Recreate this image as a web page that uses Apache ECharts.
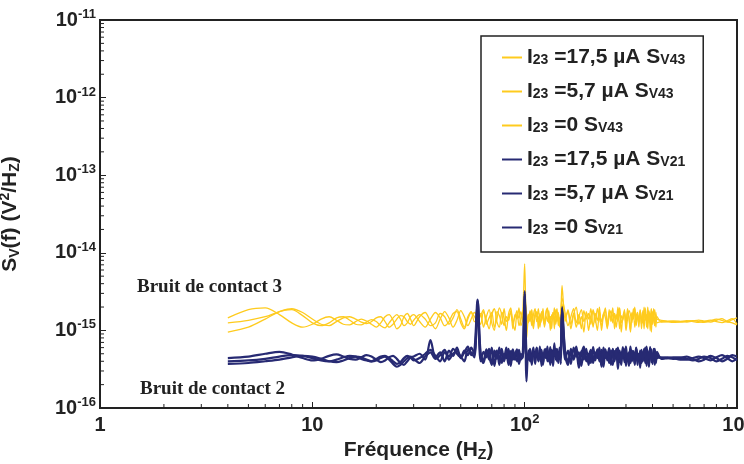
<!DOCTYPE html>
<html>
<head>
<meta charset="utf-8">
<script src="https://cdn.jsdelivr.net/npm/echarts@6/dist/echarts.min.js"></script>
<style>
  html, body { margin: 0; padding: 0; background: #fff; }
  #chart { width: 744px; height: 464px; }
</style>
</head>
<body>
<div id="chart"></div>
<script>
// frequencies (Hz), shared by all six spectra
const freq = [
  4, 5, 6, 7, 8, 9, 10, 11, 12, 13, 14, 15, 16, 17, 18, 19, 20, 21, 22, 23, 24, 25, 26, 27, 28, 29, 30,
  32, 34, 36, 38, 40, 42, 44, 46, 48, 50, 52, 54, 56, 58,
  60, 62, 64, 66, 68, 70, 72, 74, 76, 78, 80, 82, 84, 86, 88, 90, 92, 94, 96, 98,
  100, 102, 104, 106, 108, 110, 112, 114, 116, 118, 120, 122, 124, 126, 128, 130, 132, 134, 136, 138,
  140, 142, 144, 146, 148, 150,
  155, 160, 165, 170, 175, 180, 185, 190, 195, 200, 205, 210, 215, 220, 225, 230, 235, 240, 245, 250,
  255, 260, 265, 270, 275, 280, 285, 290, 295, 300, 305, 310, 315, 320, 325, 330, 335, 340, 345, 350,
  355, 360, 365, 370, 375, 380, 385, 390, 395, 400, 405, 410, 415, 420,
  440, 470, 500, 540, 580, 620, 660, 700, 750, 800, 850, 900, 950, 1000
];

// spectral densities, in units of 1e-17 V²/Hz
const sv43_175 = [
  145, 185, 195, 160, 125, 110, 120, 140, 150, 135, 120, 118, 130, 140, 132, 120, 110, 125, 150, 160, 135, 105, 115, 150, 165, 140, 115,
  150, 170, 130, 105, 140, 175, 145, 110, 135, 180, 150, 115, 140, 170,
  150, 120, 175, 135, 105, 160, 190, 130, 110, 170, 145, 100, 165, 195, 125, 150, 180, 115, 140, 175,
  720, 110, 160, 130, 185, 120, 150, 175, 105, 165, 140, 190, 115, 155, 130, 180, 100, 160, 145, 195,
  120, 150, 170, 110, 160, 380,
  130, 185, 105, 160, 200, 120, 150, 95, 175, 140, 190, 110, 165, 135, 200, 100, 155, 180, 115, 170,
  140, 195, 105, 160, 130, 185, 95, 150, 175, 120, 190, 140, 100, 170, 150, 200, 115, 160, 135, 185,
  105, 165, 145, 195, 110, 155, 180, 100, 170, 130, 190, 115, 160, 140,
  135, 132, 130, 128, 131, 134, 130, 127, 133, 140, 135, 128, 138, 145
];
const sv43_57 = [
  125, 135, 150, 175, 190, 170, 140, 120, 115, 130, 145, 150, 140, 128, 122, 130, 145, 150, 130, 110, 120, 140, 155, 150, 130, 120, 135,
  160, 140, 115, 125, 165, 150, 120, 145, 185, 140, 110, 150, 175, 130,
  140, 165, 110, 150, 185, 125, 100, 175, 155, 120, 190, 130, 150, 170, 105, 160, 140, 195, 115, 150,
  280, 165, 125, 180, 140, 105, 170, 150, 190, 120, 135, 160, 110, 175, 195, 125, 150, 140, 170, 105,
  185, 130, 155, 120, 175, 260,
  170, 115, 150, 190, 125, 160, 105, 180, 140, 165, 120, 185, 145, 100, 175, 130, 160, 195, 110, 150,
  180, 125, 165, 140, 200, 105, 155, 135, 185, 115, 170, 150, 95, 165, 140, 190, 120, 160, 110, 180,
  145, 125, 200, 135, 160, 105, 175, 150, 190, 120, 155, 185, 110, 150,
  128, 130, 133, 131, 128, 132, 136, 132, 128, 135, 142, 130, 125, 118
];
const sv43_0 = [
  95, 110, 140, 175, 185, 155, 125, 115, 125, 145, 150, 135, 120, 118, 128, 138, 130, 115, 108, 125, 145, 160, 140, 115, 125, 150, 160,
  130, 110, 140, 170, 145, 115, 130, 165, 175, 125, 105, 140, 170, 150,
  130, 155, 185, 120, 145, 170, 110, 140, 195, 160, 115, 150, 135, 180, 125, 100, 165, 145, 175, 130,
  250, 78, 145, 170, 115, 160, 190, 130, 150, 110, 175, 140, 120, 165, 185, 125, 150, 105, 170, 140,
  160, 190, 115, 145, 130, 220,
  145, 175, 120, 165, 110, 150, 185, 130, 160, 100, 155, 175, 125, 190, 140, 115, 165, 145, 105, 185,
  130, 160, 150, 110, 175, 195, 125, 145, 165, 100, 140, 180, 160, 125, 190, 110, 150, 170, 135, 160,
  120, 180, 105, 165, 140, 200, 125, 160, 95, 175, 135, 115, 170, 125,
  130, 129, 127, 130, 134, 130, 127, 131, 136, 130, 126, 133, 142, 120
];
const sv21_175 = [
  44, 46, 50, 53, 49, 44, 41, 43, 47, 49, 46, 43, 42, 45, 48, 46, 42, 39, 41, 45, 47, 43, 38, 36, 40, 45, 46,
  50, 42, 75, 45, 52, 40, 55, 47, 60, 44, 52, 62, 48, 56,
  250, 45, 38, 55, 42, 60, 35, 50, 44, 58, 40, 52, 36, 48, 57, 42, 54, 38, 50, 45,
  320, 22, 55, 40, 48, 60, 37, 52, 44, 62, 35, 50, 46, 58, 40, 53, 36, 56, 44, 68,
  42, 55, 38, 60, 45, 200,
  48, 36, 58, 42, 54, 33, 50, 62, 40, 47, 56, 38, 52, 44, 60, 34, 49, 57, 41, 53,
  36, 58, 45, 50, 32, 55, 43, 61, 39, 52, 46, 35, 57, 42, 54, 37, 60, 44, 50, 33,
  56, 41, 53, 38, 62, 45, 34, 55, 48, 40, 58, 36, 51, 44,
  45, 44, 43, 44, 46, 43, 40, 42, 47, 44, 40, 43, 48, 46
];
const sv21_57 = [
  40, 41, 43, 46, 48, 47, 44, 41, 40, 42, 45, 47, 46, 43, 41, 40, 43, 46, 47, 44, 40, 37, 39, 44, 47, 45, 41,
  44, 50, 56, 47, 40, 52, 46, 58, 50, 45, 55, 48, 60, 50,
  240, 52, 40, 57, 46, 36, 55, 43, 60, 38, 50, 44, 58, 35, 53, 47, 40, 56, 42, 52,
  300, 40, 48, 58, 36, 52, 45, 60, 41, 50, 56, 38, 53, 44, 62, 40, 48, 55, 35, 52,
  47, 58, 41, 54, 37, 190,
  42, 55, 37, 60, 46, 52, 35, 57, 43, 50, 38, 61, 45, 53, 40, 56, 34, 51, 47, 59,
  42, 36, 54, 48, 60, 39, 52, 44, 57, 35, 50, 45, 62, 40, 53, 36, 58, 47, 42, 55,
  38, 51, 45, 60, 35, 54, 43, 50, 57, 37, 49, 55, 40, 47,
  44, 45, 44, 42, 42, 44, 46, 44, 41, 45, 48, 44, 40, 44
];
const sv21_0 = [
  37, 38, 40, 42, 45, 47, 46, 43, 40, 39, 41, 44, 46, 45, 42, 40, 41, 44, 46, 42, 37, 34, 36, 40, 44, 46, 43,
  38, 46, 52, 43, 48, 56, 42, 50, 54, 46, 40, 56, 52, 45,
  230, 40, 53, 45, 58, 38, 48, 55, 36, 51, 46, 60, 39, 54, 42, 50, 57, 37, 48, 44,
  280, 50, 42, 56, 38, 53, 46, 59, 40, 48, 52, 36, 57, 45, 50, 42, 61, 39, 54, 47,
  58, 40, 52, 44, 55, 180,
  55, 40, 50, 45, 62, 38, 54, 42, 58, 36, 52, 46, 41, 57, 49, 36, 60, 44, 52, 38,
  55, 47, 40, 58, 43, 51, 36, 56, 46, 62, 40, 52, 38, 55, 47, 44, 59, 36, 50, 43,
  54, 40, 58, 46, 37, 52, 44, 61, 39, 50, 45, 58, 38, 53,
  43, 44, 45, 45, 43, 41, 43, 46, 44, 40, 43, 47, 45, 41
];

const seriesNames = [
  'I23 =17,5 µA SV43', 'I23 =5,7 µA SV43', 'I23 =0 SV43',
  'I23 =17,5 µA SV21', 'I23 =5,7 µA SV21', 'I23 =0 SV21'
];
const legendRich = [
  '{m|I}{d|23}{m| =17,5 µA S}{d|V43}', '{m|I}{d|23}{m| =5,7 µA S}{d|V43}', '{m|I}{d|23}{m| =0 S}{d|V43}',
  '{m|I}{d|23}{m| =17,5 µA S}{d|V21}', '{m|I}{d|23}{m| =5,7 µA S}{d|V21}', '{m|I}{d|23}{m| =0 S}{d|V21}'
];
const seriesValues = [sv43_175, sv43_57, sv43_0, sv21_175, sv21_57, sv21_0];

// log minor tick positions
const minorX = [2, 3, 4, 5, 6, 7, 8, 9, 20, 30, 40, 50, 60, 70, 80, 90, 200, 300, 400, 500, 600, 700, 800, 900];
const minorYMantissa = [2, 3, 4, 5, 6, 7, 8, 9];
const yDecades = [-16, -15, -14, -13, -12];

const YELLOW = '#FECB1E';
const NAVY = '#272A73';
const INK = '#222';
const FONT = 'Liberation Sans';

const chart = echarts.init(document.getElementById('chart'));

const lineSeries = seriesValues.map((vals, i) => ({
  name: seriesNames[i],
  type: 'line',
  data: freq.map((f, k) => [f, vals[k] * 1e-17]),
  showSymbol: false,
  smooth: 0.3,
  lineStyle: { width: i < 3 ? 1.3 : 2.2, color: i < 3 ? YELLOW : NAVY },
  itemStyle: { color: i < 3 ? YELLOW : NAVY },
  silent: true,
  z: 2
}));

const yMinorVals = [];
yDecades.forEach(e => minorYMantissa.forEach(m => yMinorVals.push(m * Math.pow(10, e))));

const tickStyle = { stroke: INK, lineWidth: 1 };

function powLabel(v) {
  const e = Math.round(Math.log10(v));
  if (e === 0) return '{b|1}';
  if (e === 1) return '{b|10}';
  return '{b|10}{s|' + e + '}';
}

const supRich = {
  b: { fontFamily: FONT, fontWeight: 'bold', fontSize: 20, color: INK, lineHeight: 24 },
  s: { fontFamily: FONT, fontWeight: 'bold', fontSize: 13, color: INK, verticalAlign: 'top', lineHeight: 14 }
};

const option = {
  animation: false,
  backgroundColor: '#fff',
  grid: {
    left: 100, right: 7, top: 20, bottom: 56,
    outerBoundsMode: 'none',
    containLabel: false,
    show: true, borderColor: INK, borderWidth: 2, backgroundColor: 'transparent'
  },
  legend: {
    data: seriesNames,
    orient: 'vertical',
    left: 481, top: 36,
    padding: [11, 18, 14, 21],
    itemGap: 13,
    itemWidth: 20,
    itemHeight: 2,
    icon: 'rect',
    borderColor: INK,
    borderWidth: 1.5,
    backgroundColor: '#fff',
    formatter: name => legendRich[seriesNames.indexOf(name)],
    textStyle: {
      rich: {
        m: { fontFamily: FONT, fontWeight: 'bold', fontSize: 21, color: INK, lineHeight: 20 },
        d: { fontFamily: FONT, fontWeight: 'bold', fontSize: 14, color: INK, verticalAlign: 'bottom', lineHeight: 13 }
      }
    }
  },
  xAxis: {
    type: 'log',
    logBase: 10,
    min: 1,
    max: 1000,
    name: '{t|Fréquence (H}{d|Z}{t|)}',
    nameLocation: 'middle',
    nameGap: 28,
    nameTextStyle: {
      rich: {
        t: { fontFamily: FONT, fontWeight: 'bold', fontSize: 21, color: INK, lineHeight: 24 },
        d: { fontFamily: FONT, fontWeight: 'bold', fontSize: 14, color: INK, verticalAlign: 'bottom', lineHeight: 14 }
      }
    },
    axisLine: { lineStyle: { color: INK, width: 2 } },
    axisTick: { inside: true, length: 6, lineStyle: { color: INK, width: 1 } },
    axisLabel: { formatter: powLabel, rich: supRich, margin: 5, hideOverlap: false },
    splitLine: { show: false }
  },
  yAxis: {
    type: 'log',
    logBase: 10,
    min: 1e-16,
    max: 1e-11,
    name: '{t|S}{d|V}{t|(f) (V}{u|2}{t|/H}{d|Z}{t|)}',
    nameLocation: 'middle',
    nameGap: 78,
    nameRotate: 90,
    nameTextStyle: {
      rich: {
        t: { fontFamily: FONT, fontWeight: 'bold', fontSize: 21, color: INK, lineHeight: 24 },
        d: { fontFamily: FONT, fontWeight: 'bold', fontSize: 14, color: INK, verticalAlign: 'bottom', lineHeight: 14 },
        u: { fontFamily: FONT, fontWeight: 'bold', fontSize: 14, color: INK, verticalAlign: 'top', lineHeight: 14 }
      }
    },
    axisLine: { lineStyle: { color: INK, width: 2 } },
    axisTick: { inside: true, length: 6, lineStyle: { color: INK, width: 1 } },
    axisLabel: { formatter: powLabel, rich: supRich, margin: 4 },
    splitLine: { show: false }
  },
  graphic: [
    {
      type: 'text', left: 137, top: 278,
      style: { text: 'Bruit de contact 3', font: 'bold 19px "Liberation Serif"', fill: INK }
    },
    {
      type: 'text', left: 140, top: 380,
      style: { text: 'Bruit de contact 2', font: 'bold 19px "Liberation Serif"', fill: INK }
    }
  ],
  series: lineSeries.concat([
    {
      type: 'custom',
      silent: true,
      z: 5,
      data: minorX.map(v => [v, 1e-16]),
      renderItem: (params, api) => {
        const p = api.coord([api.value(0), api.value(1)]);
        return { type: 'line', shape: { x1: p[0], y1: p[1], x2: p[0], y2: p[1] - 4 }, style: tickStyle };
      }
    },
    {
      type: 'custom',
      silent: true,
      z: 5,
      data: yMinorVals.map(v => [1, v]),
      renderItem: (params, api) => {
        const p = api.coord([api.value(0), api.value(1)]);
        return { type: 'line', shape: { x1: p[0], y1: p[1], x2: p[0] + 4, y2: p[1] }, style: tickStyle };
      }
    }
  ])
};

chart.setOption(option);
</script>
</body>
</html>
